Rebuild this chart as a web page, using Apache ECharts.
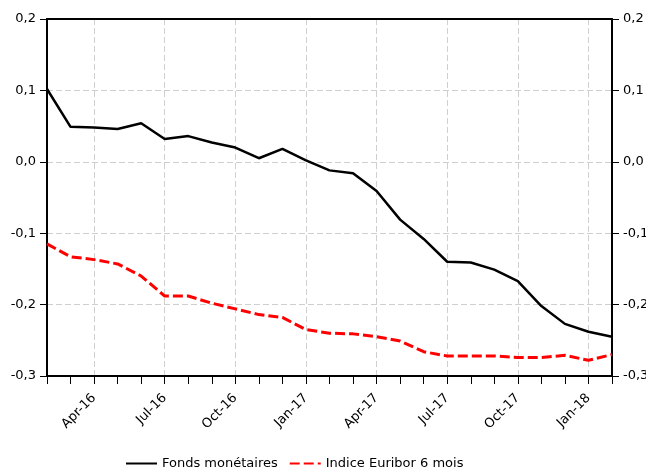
<!DOCTYPE html>
<html>
<head>
<meta charset="utf-8">
<script src="https://cdn.jsdelivr.net/npm/echarts@6/dist/echarts.min.js"></script>
<style>
html,body{margin:0;padding:0;background:#fff;}
#c{width:646px;height:468px;}
</style>
</head>
<body>
<div id="c"></div>
<script>
var months = ["Feb-16","Mar-16","Apr-16","May-16","Jun-16","Jul-16","Aug-16","Sep-16","Oct-16","Nov-16","Dec-16",
  "Jan-17","Feb-17","Mar-17","Apr-17","May-17","Jun-17","Jul-17","Aug-17","Sep-17","Oct-17","Nov-17","Dec-17",
  "Jan-18","Feb-18"];
var fonds = [0.102, 0.049, 0.048, 0.046, 0.054, 0.032, 0.036, 0.027, 0.020, 0.005, 0.018, 0.002, -0.012,
  -0.016, -0.041, -0.081, -0.108, -0.140, -0.141, -0.151, -0.167, -0.202, -0.227, -0.238, -0.245];
var euribor = [-0.115, -0.133, -0.137, -0.143, -0.160, -0.188, -0.188, -0.198, -0.206, -0.214, -0.218, -0.235,
  -0.240, -0.241, -0.245, -0.251, -0.266, -0.272, -0.272, -0.272, -0.274, -0.274, -0.271, -0.278, -0.270];
var seriesNames = ["Fonds monétaires", "Indice Euribor 6 mois"];
var yMin = -0.3, yMax = 0.2, yStep = 0.1;

var FONT = "DejaVu Sans";
var quarter = function (i) { return i % 3 === 2; };
var fmt = function (v) { return v.toFixed(1).replace('.', ','); };

var chart = echarts.init(document.getElementById('c'), null, {renderer: 'canvas'});
var yCommon = {
  type: 'value', min: yMin, max: yMax, interval: yStep,
  axisLine: {show: true, onZero: false, lineStyle: {color: '#000', width: 2}},
  axisTick: {show: true, length: 7, lineStyle: {color: '#000', width: 1}},
  axisLabel: {formatter: fmt, color: '#000', fontFamily: FONT, fontSize: 13, margin: 11}
};
chart.setOption({
  animation: false,
  backgroundColor: '#fff',
  grid: {left: 47, right: 34, top: 19, bottom: 92, containLabel: false, outerBoundsMode: 'none',
    show: false},
  legend: {
    left: 120, top: 452, itemWidth: 31, itemHeight: 10, itemGap: 11,
    itemStyle: {opacity: 0},
    textStyle: {color: '#000', fontFamily: FONT, fontSize: 13},
    data: seriesNames
  },
  xAxis: [{
    type: 'category', data: months, boundaryGap: false, position: 'bottom',
    axisLine: {show: true, onZero: false, lineStyle: {color: '#000', width: 2}},
    axisTick: {show: true, interval: 0, length: 8, lineStyle: {color: '#000', width: 1}},
    axisLabel: {interval: quarter, rotate: 45, color: '#000', fontFamily: FONT, fontSize: 13, margin: 20},
    splitLine: {show: true, interval: quarter, lineStyle: {color: '#cfcfcf', type: [6, 3], width: 1}}
  }, {
    type: 'category', data: months, boundaryGap: false, position: 'top',
    axisLine: {show: true, onZero: false, lineStyle: {color: '#000', width: 2}},
    axisTick: {show: false}, axisLabel: {show: false}, splitLine: {show: false}
  }],
  yAxis: [
    Object.assign({}, yCommon, {position: 'left',
      splitLine: {show: true, showMinLine: false, showMaxLine: false,
        lineStyle: {color: '#cfcfcf', type: [6, 3], width: 1}}}),
    Object.assign({}, yCommon, {position: 'right', splitLine: {show: false}})
  ],
  series: [
    {name: seriesNames[0], type: 'line', data: fonds, symbol: 'none', yAxisIndex: 0,
      lineStyle: {color: '#000', width: 2.5}, itemStyle: {color: '#000'}},
    {name: seriesNames[1], type: 'line', data: euribor, symbol: 'none', yAxisIndex: 0,
      lineStyle: {color: '#ff0000', width: 3, type: [10, 4]}, itemStyle: {color: '#ff0000'}}
  ]
});
</script>
</body>
</html>
